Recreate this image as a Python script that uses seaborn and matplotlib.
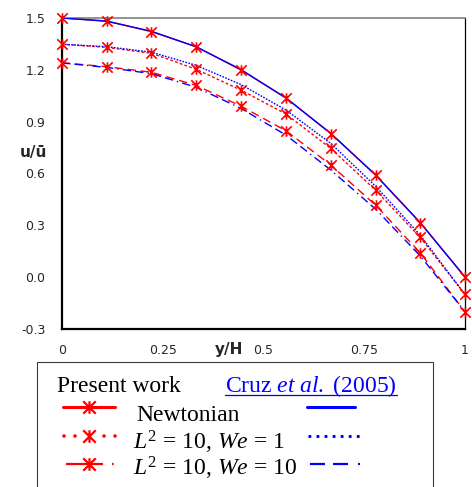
import numpy as np
import pandas as pd
import matplotlib
matplotlib.use("Agg")
import matplotlib.pyplot as plt
import seaborn as sns
from matplotlib.path import Path
from matplotlib.lines import Line2D
from matplotlib.patches import Rectangle

# ---------------- data ----------------
y_over_h = [0.0, 0.111, 0.222, 0.333, 0.444, 0.556, 0.667, 0.778, 0.889, 1.0]

present_newtonian = [1.500, 1.483, 1.421, 1.334, 1.199, 1.038, 0.831, 0.591, 0.314, 0.002]
present_we1 = [1.348, 1.330, 1.296, 1.203, 1.083, 0.944, 0.745, 0.504, 0.230, -0.100]
present_we10 = [1.241, 1.218, 1.186, 1.110, 0.990, 0.847, 0.649, 0.417, 0.141, -0.201]

cruz_newtonian = [1.500, 1.481, 1.423, 1.333, 1.202, 1.036, 0.832, 0.592, 0.316, 0.000]
cruz_we1 = [1.348, 1.334, 1.302, 1.226, 1.115, 0.967, 0.774, 0.527, 0.243, -0.100]
cruz_we10 = [1.240, 1.214, 1.178, 1.099, 0.977, 0.822, 0.620, 0.394, 0.123, -0.200]

y_ticks = [-0.3, 0.0, 0.3, 0.6, 0.9, 1.2, 1.5]
y_tick_labels = ["-0.3", "0.0", "0.3", "0.6", "0.9", "1.2", "1.5"]
x_ticks = [0.0, 0.25, 0.5, 0.75, 1.0]
x_tick_labels = ["0", "0.25", "0.5", "0.75", "1"]

series_names = ["Newtonian", "We1", "We10"]
legend_labels = ["Newtonian", r"$L^2$ = 10, $We$ = 1", r"$L^2$ = 10, $We$ = 10"]

# ---------------- style ----------------
sns.set_style("white")
plt.rcParams["font.family"] = ["DejaVu Sans"]
plt.rcParams["lines.scale_dashes"] = False
plt.rcParams["mathtext.fontset"] = "custom"
plt.rcParams["mathtext.rm"] = "Liberation Serif"
plt.rcParams["mathtext.it"] = "Liberation Serif:italic"
plt.rcParams["mathtext.bf"] = "Liberation Serif:bold"

RED = "#ff0000"
BLUE = "#0000ff"

W, H = 472, 487


def fx(px):
    return px / W


def fy(py):
    return 1 - py / H


star = Path([(0, -1), (0, 1), (-1, -1), (1, 1), (-1, 1), (1, -1)],
            [Path.MOVETO, Path.LINETO, Path.MOVETO, Path.LINETO, Path.MOVETO, Path.LINETO])

fig = plt.figure(figsize=(W / 100, H / 100), dpi=100)
ax = fig.add_axes([fx(62), fy(329), (465 - 62) / W, (329 - 18) / H])

frames = []
for name, pres, cruz in zip(series_names,
                            [present_newtonian, present_we1, present_we10],
                            [cruz_newtonian, cruz_we1, cruz_we10]):
    frames.append(pd.DataFrame({"y": y_over_h, "u": pres, "series": name, "source": "present"}))
    frames.append(pd.DataFrame({"y": y_over_h, "u": cruz, "series": name, "source": "cruz"}))
df = pd.concat(frames, ignore_index=True)

red_styles = {"Newtonian": "-", "We1": (0, (2.0, 1.6)), "We10": (0, (6.0, 3.5))}
blue_styles = {"Newtonian": "-", "We1": (0, (1.2, 1.0)), "We10": (0, (6.0, 3.0, 6.0, 3.0, 1.0, 3.0))}

for name in series_names:
    d = df[(df.series == name) & (df.source == "present")]
    sns.lineplot(data=d, x="y", y="u", ax=ax, color=RED, lw=1.0,
                 linestyle=red_styles[name], errorbar=None, zorder=2)
for name in series_names:
    d = df[(df.series == name) & (df.source == "cruz")]
    sns.lineplot(data=d, x="y", y="u", ax=ax, color=BLUE, lw=1.0,
                 linestyle=blue_styles[name], errorbar=None, zorder=3)
for name in series_names:
    d = df[(df.series == name) & (df.source == "present")]
    sns.lineplot(data=d, x="y", y="u", ax=ax, color=RED, linestyle="none",
                 marker=star, markersize=7.5, markeredgewidth=1.2,
                 markeredgecolor=RED, errorbar=None, zorder=4, clip_on=False)

ax.set_xlim(0, 1)
ax.set_ylim(-0.3, 1.5)
ax.set_xticks(x_ticks)
ax.set_xticklabels(x_tick_labels)
ax.set_yticks(y_ticks)
ax.set_yticklabels(y_tick_labels)
ax.tick_params(axis="both", direction="in", length=3, width=0.8, colors="#262626",
               labelsize=9)
ax.tick_params(axis="y", pad=12)
ax.tick_params(axis="x", pad=11)

for side, lw, col in [("left", 1.6, "black"), ("bottom", 1.6, "black"),
                      ("top", 1.2, "#7f7f7f"), ("right", 0.9, "black")]:
    ax.spines[side].set_visible(True)
    ax.spines[side].set_linewidth(lw)
    ax.spines[side].set_color(col)

ax.set_xlabel("y/H", fontsize=11, fontweight="bold", color="#262626")
ax.xaxis.set_label_coords((229 - 62) / 403, -(342 - 329) / 311)
ax.xaxis.label.set_va("top")
ax.set_ylabel("u/ū", fontsize=11, fontweight="bold", color="#262626", rotation=0)
ax.yaxis.set_label_coords((33 - 62) / 403, (329 - 153) / 311)
ax.yaxis.label.set_va("center")
ax.yaxis.label.set_ha("center")

# ---------------- legend box ----------------
fig.add_artist(Rectangle((fx(37), -0.05), fx(433) - fx(37), fy(362) + 0.05,
                         transform=fig.transFigure, fill=False,
                         edgecolor="#3a3a3a", lw=0.8))

serif = ["Liberation Serif", "DejaVu Serif"]
fs = 17
fig.text(fx(57), fy(392), "Present work", fontsize=fs, family=serif,
         color="black", va="baseline", ha="left")
cruz_txt = fig.text(fx(225), fy(392),
                    r"$\mathrm{Cruz}\ \mathit{et\ al.}\ \mathrm{(2005)}$",
                    fontsize=fs, family=serif, color=BLUE, va="baseline", ha="left")

row_base = [421, 449, 476]
row_key = [407, 436, 464]
label_x = [136, 133, 133]
for lab, b, lx in zip(legend_labels, row_base, label_x):
    fig.text(fx(lx), fy(b), lab, fontsize=fs, family=serif, color="black",
             va="baseline", ha="left")

# red keys
fig.add_artist(Line2D([fx(63), fx(115)], [fy(row_key[0])] * 2, color=RED, lw=2.2,
                      transform=fig.transFigure))
fig.add_artist(Line2D([fx(64), fx(117)], [fy(row_key[1])] * 2, color=RED, lw=2.6,
                      linestyle=(0, (0.01, 7.9, 0.01, 20.9)), dash_capstyle="round",
                      transform=fig.transFigure))
fig.add_artist(Line2D([fx(66), fx(115)], [fy(row_key[2])] * 2, color=RED, lw=1.6,
                      linestyle=(0, (26.6, 6.5, 1.2, 14)),
                      transform=fig.transFigure))
for ky in row_key:
    fig.add_artist(Line2D([fx(89)], [fy(ky)], color=RED, linestyle="none",
                          marker=star, markersize=9, markeredgewidth=1.6,
                          markeredgecolor=RED, transform=fig.transFigure))

# blue keys
fig.add_artist(Line2D([fx(307), fx(355)], [fy(row_key[0])] * 2, color=BLUE, lw=2.2,
                      transform=fig.transFigure))
fig.add_artist(Line2D([fx(308), fx(361)], [fy(row_key[1])] * 2, color=BLUE, lw=2.2,
                      linestyle=(0, (2.0, 3.8)), transform=fig.transFigure))
fig.add_artist(Line2D([fx(310), fx(360)], [fy(row_key[2])] * 2, color=BLUE, lw=1.6,
                      linestyle=(0, (10.8, 5.8, 10.8, 7.2, 1.4, 20)),
                      transform=fig.transFigure))

# underline of the reference label
fig.canvas.draw()
bb = cruz_txt.get_window_extent(renderer=fig.canvas.get_renderer())
fig.add_artist(Line2D([bb.x0 / W, bb.x1 / W], [fy(395)] * 2, color=BLUE, lw=0.9,
                      transform=fig.transFigure))

fig.savefig("out.png", dpi=100)
